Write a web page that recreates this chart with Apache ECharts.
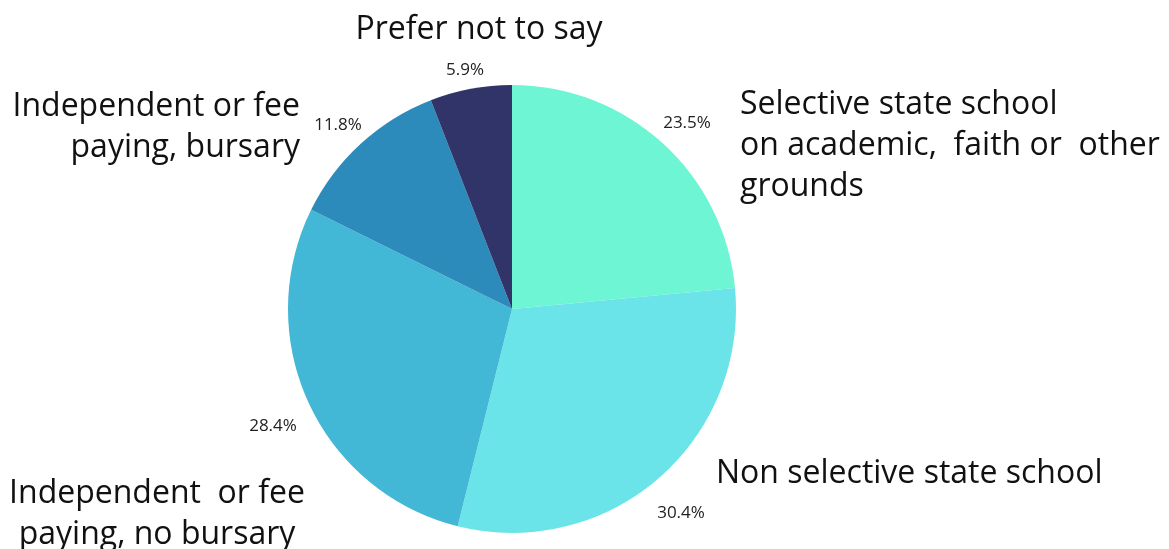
<!DOCTYPE html>
<html>
<head>
<meta charset="utf-8">
<script src="https://cdn.jsdelivr.net/npm/echarts@6/dist/echarts.min.js"></script>
<style>
  html, body { margin: 0; padding: 0; background: #ffffff; }
  #chart { width: 1169px; height: 549px; }
</style>
</head>
<body>
<div id="chart"></div>
<script>
// School type shares, clockwise from 12 o'clock
const categories = [
  'Selective state school\non academic,  faith or  other\ngrounds',
  'Non selective state school',
  'Independent  or fee\npaying, no bursary',
  'Independent or fee\npaying, bursary',
  'Prefer not to say'
];
const shares = [23.5, 30.4, 28.4, 11.8, 5.9];
const sliceColors = ['#6ef5d3', '#6ae4e8', '#43b7d6', '#2d8bbb', '#303469'];

// Anchor of each category caption (block centre on y)
const captionPlacement = [
  { x: 740, y: 146, align: 'left' },
  { x: 716, y: 474, align: 'left' },
  { x: 157, y: 514, align: 'center' },
  { x: 300, y: 127, align: 'right' },
  { x: 479, y: 30, align: 'center' }
];
// Centre of each percentage label, just outside the rim
const percentPlacement = [
  { x: 687, y: 123 },
  { x: 681, y: 513 },
  { x: 273, y: 426 },
  { x: 338, y: 125 },
  { x: 465, y: 70 }
];

const FONT = '"Open Sans", "Noto Sans", sans-serif';
const center = [512, 309];

const chart = echarts.init(document.getElementById('chart'), null, { renderer: 'canvas' });
chart.setOption({
  backgroundColor: '#ffffff',
  animation: false,
  series: [
    {
      type: 'pie',
      center: center,
      radius: [0, 224],
      startAngle: 90,
      clockwise: true,
      data: categories.map((name, i) => ({
        name: name,
        value: shares[i],
        itemStyle: { color: sliceColors[i] }
      })),
      itemStyle: { borderWidth: 0 },
      emphasis: { disabled: true },
      label: {
        show: true,
        position: 'outside',
        formatter: '{b}',
        color: '#111111',
        fontFamily: FONT,
        fontSize: 32,
        lineHeight: 41,
        overflow: 'none',
        width: 500
      },
      labelLine: { show: false },
      labelLayout: function (params) {
        const p = captionPlacement[params.dataIndex];
        return { x: p.x, y: p.y, align: p.align, verticalAlign: 'middle', hideOverlap: false };
      }
    },
    {
      // Transparent copy of the pie that carries the percentage labels
      type: 'pie',
      center: center,
      radius: [0, 224],
      startAngle: 90,
      clockwise: true,
      silent: true,
      data: categories.map((name, i) => ({ name: name, value: shares[i] })),
      itemStyle: { color: 'rgba(0,0,0,0)' },
      label: {
        show: true,
        position: 'outside',
        formatter: function (p) { return p.value.toFixed(1) + '%'; },
        color: '#222222',
        fontFamily: FONT,
        fontSize: 17,
        overflow: 'none'
      },
      labelLine: { show: false },
      labelLayout: function (params) {
        const p = percentPlacement[params.dataIndex];
        return { x: p.x, y: p.y, align: 'center', verticalAlign: 'middle', hideOverlap: false };
      }
    }
  ]
});
</script>
</body>
</html>
